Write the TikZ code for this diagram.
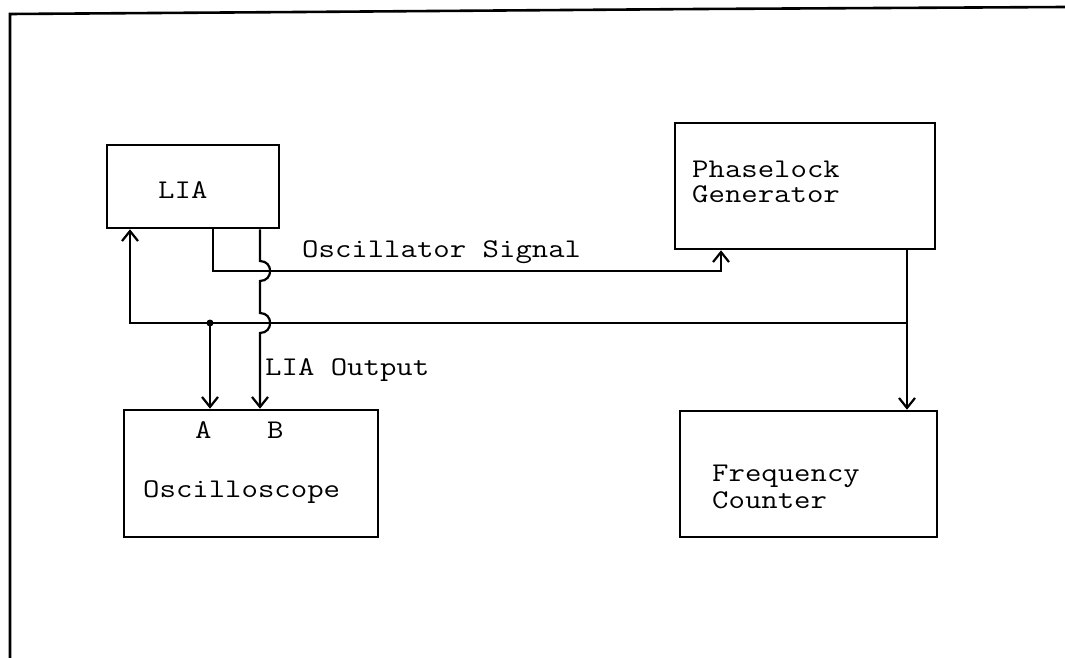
\documentclass[tikz,border=0pt]{standalone}
\usepackage{fontspec}
\setmonofont{Latin Modern Mono}[FakeStretch=1.18]
\usetikzlibrary{arrows.meta}
\begin{document}
\begin{tikzpicture}[x=1pt,y=-1pt,
  box/.style={draw,line width=2.6pt,rectangle,inner sep=0pt},
  conn/.style={line width=2.2pt},
  arr/.style={conn,-{Straight Barb[length=10pt,width=16pt,line width=2.2pt]}},
  lbl/.style={font=\ttfamily\fontsize{27}{32}\selectfont,inner sep=0pt,anchor=base west,
    text height=17pt,text depth=6pt}]
\useasboundingbox (0,0) rectangle (1065,658);
% outer frame
\draw[line width=2.6pt] (10,658) -- (10,14) -- (300,12) -- (700,9) -- (1065,7);
% boxes
\node[box,minimum width=172pt,minimum height=83pt] (lia) at (193,186.5) {};
\node[box,minimum width=260pt,minimum height=126pt] (pll) at (805,186) {};
\node[box,minimum width=254pt,minimum height=127pt] (osc) at (251,473.5) {};
\node[box,minimum width=257pt,minimum height=126pt] (fc) at (808.5,474) {};
% texts
\node[lbl] (tlia) at (158,198) {LIA};
\node[lbl,text depth=0pt] (tpll1) at (692,177) {Phaselock};
\node[lbl] (tpll2) at (692,202) {Generator};
\node[lbl] (tosc) at (143,497) {Oscilloscope};
\node[lbl] (ta) at (195,438) {A};
\node[lbl] (tb) at (267,438) {B};
\node[lbl,text depth=6pt] (tfc1) at (712,481) {Frequency};
\node[lbl,text height=15pt] (tfc2) at (712,508) {Counter};
\node[lbl] (tos) at (302,257) {Oscillator Signal};
\node[lbl] (tout) at (265,375) {LIA Output};
% bend coordinates
\coordinate (b1) at (213,271);
\coordinate (b2) at (721,271);
\coordinate (j1) at (907,323);
\coordinate (b3) at (130,323);
\coordinate (j2) at (210,323);
\coordinate (c0) at (260,228);
\coordinate (c1) at (260,261);
\coordinate (c2) at (260,281);
\coordinate (c3) at (260,313);
\coordinate (c4) at (260,333);
% oscillator signal
\draw[arr] (lia.south -| b1) -- (b1) -- (b2) -- (pll.south -| b2);
% phaselock output to frequency counter
\draw[arr] (pll.south -| j1) -- (fc.north -| j1);
% reference back to LIA
\draw[arr] (j1) -- (b3) -- (lia.south -| b3);
% branch to A
\fill (j2) circle (3.5pt);
\draw[arr] (j2) -- (osc.north -| j2);
% LIA output to B with jumps
\draw[arr] (lia.south -| c0) -- (c1)
  .. controls (273.5,261) and (273.5,281) .. (c2) -- (c3)
  .. controls (273.5,313) and (273.5,333) .. (c4) -- (osc.north -| c4);
\end{tikzpicture}
\end{document}
